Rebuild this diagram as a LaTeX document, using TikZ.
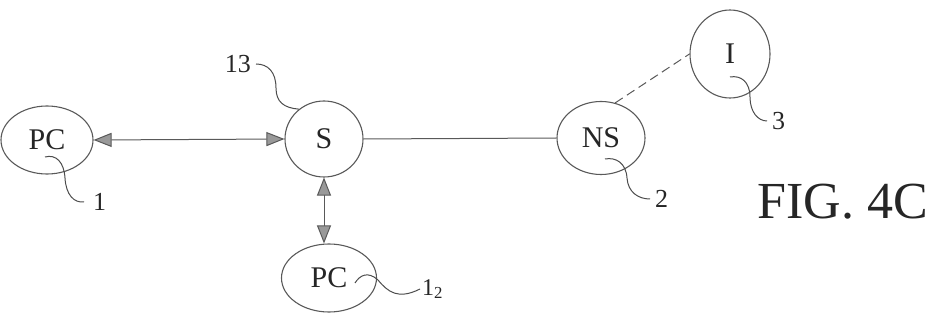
\documentclass[tikz,border=0pt]{standalone}
\usepackage{fontspec}
\newfontfamily\tms{Liberation Serif}
\usetikzlibrary{arrows.meta,shapes.geometric}

\tikzset{
	unit/.style = {draw=black!65, line width=1.1pt, ellipse, inner sep=0pt, text=black!85,
		font=\tms\fontsize{30}{34}\selectfont},
	lab/.style = {anchor=west, inner xsep=5pt, inner ysep=0pt, text=black!85,
		font=\tms\fontsize{26}{30}\selectfont},
	lead/.style = {draw=black!70, line width=1pt},
	link/.style = {draw=black!65, line width=1pt},
	tip/.style = {{Triangle[length=18pt,width=14pt,fill=black!40]}-{Triangle[length=18pt,width=14pt,fill=black!40]}}
}

\begin{document}
\begin{tikzpicture}[x=1pt,y=-1pt]
		\useasboundingbox (0,0) rectangle (932,320);
		\node[unit, minimum width=92pt, minimum height=68pt] (pc1) at (47,140) {PC};
		\node[unit, minimum width=78pt, minimum height=76pt] (srv) at (324,139) {S};
		\node[unit, minimum width=88pt, minimum height=73pt] (ns) at (601,138) {NS};
		\node[unit, minimum width=80pt, minimum height=88pt] (inet) at (730,54) {I};
		\node[unit, minimum width=95pt, minimum height=68pt] (pc2) at (329,278) {PC};
		\node[lab, inner xsep=9pt] (lab1) at (84,202) {1};
		\node[lab, anchor=east] (lab13) at (256,64) {13};
		\node[lab] (lab2) at (650,199) {2};
		\node[lab] (lab3) at (767,121) {3};
		\node[lab, inner xsep=2pt, font=\tms\fontsize{24}{28}\selectfont] (lab12) at (420,289) {1\textsubscript{2}};
		\node[text=black!85, font=\tms\fontsize{52}{58}\selectfont] (fig) at (843,202) {FIG. 4C};
		\coordinate (t1) at (45,157);
		\coordinate (t2) at (605,159);
		\coordinate (t3) at (730,77);
		\coordinate (t12) at (355,283);
		\draw[link, tip] (pc1.east) -- (srv.west);
		\draw[link, tip] (srv.south) -- (srv.south |- pc2.north);
		\draw[link] (srv.east) -- (ns.west);
		\draw[link, dash pattern=on 9pt off 5pt] (ns.68) -- (inet.west);
		\draw[lead] (t1) .. controls (56,154) and (64,162) .. (65,178) .. controls (66,195) and (74,203) .. (lab1.west);
		\draw[lead] (lab13.east) .. controls (268,64) and (276,72) .. (276,88) .. controls (276,102) and (284,108) .. (srv.130);
		\draw[lead] (t2) .. controls (616,157) and (626,163) .. (627,178) .. controls (628,192) and (638,199) .. (lab2.west);
		\draw[lead] (t3) .. controls (741,75) and (750,82) .. (750,97) .. controls (750,112) and (758,121) .. (lab3.west);
		\draw[lead] (t12) .. controls (360,275) and (368,271) .. (378,280) .. controls (388,292) and (398,300) .. (lab12.west);
	%	\draw[lead] (pc2.east) -- (lab12.west);
	\end{tikzpicture}
\end{document}
